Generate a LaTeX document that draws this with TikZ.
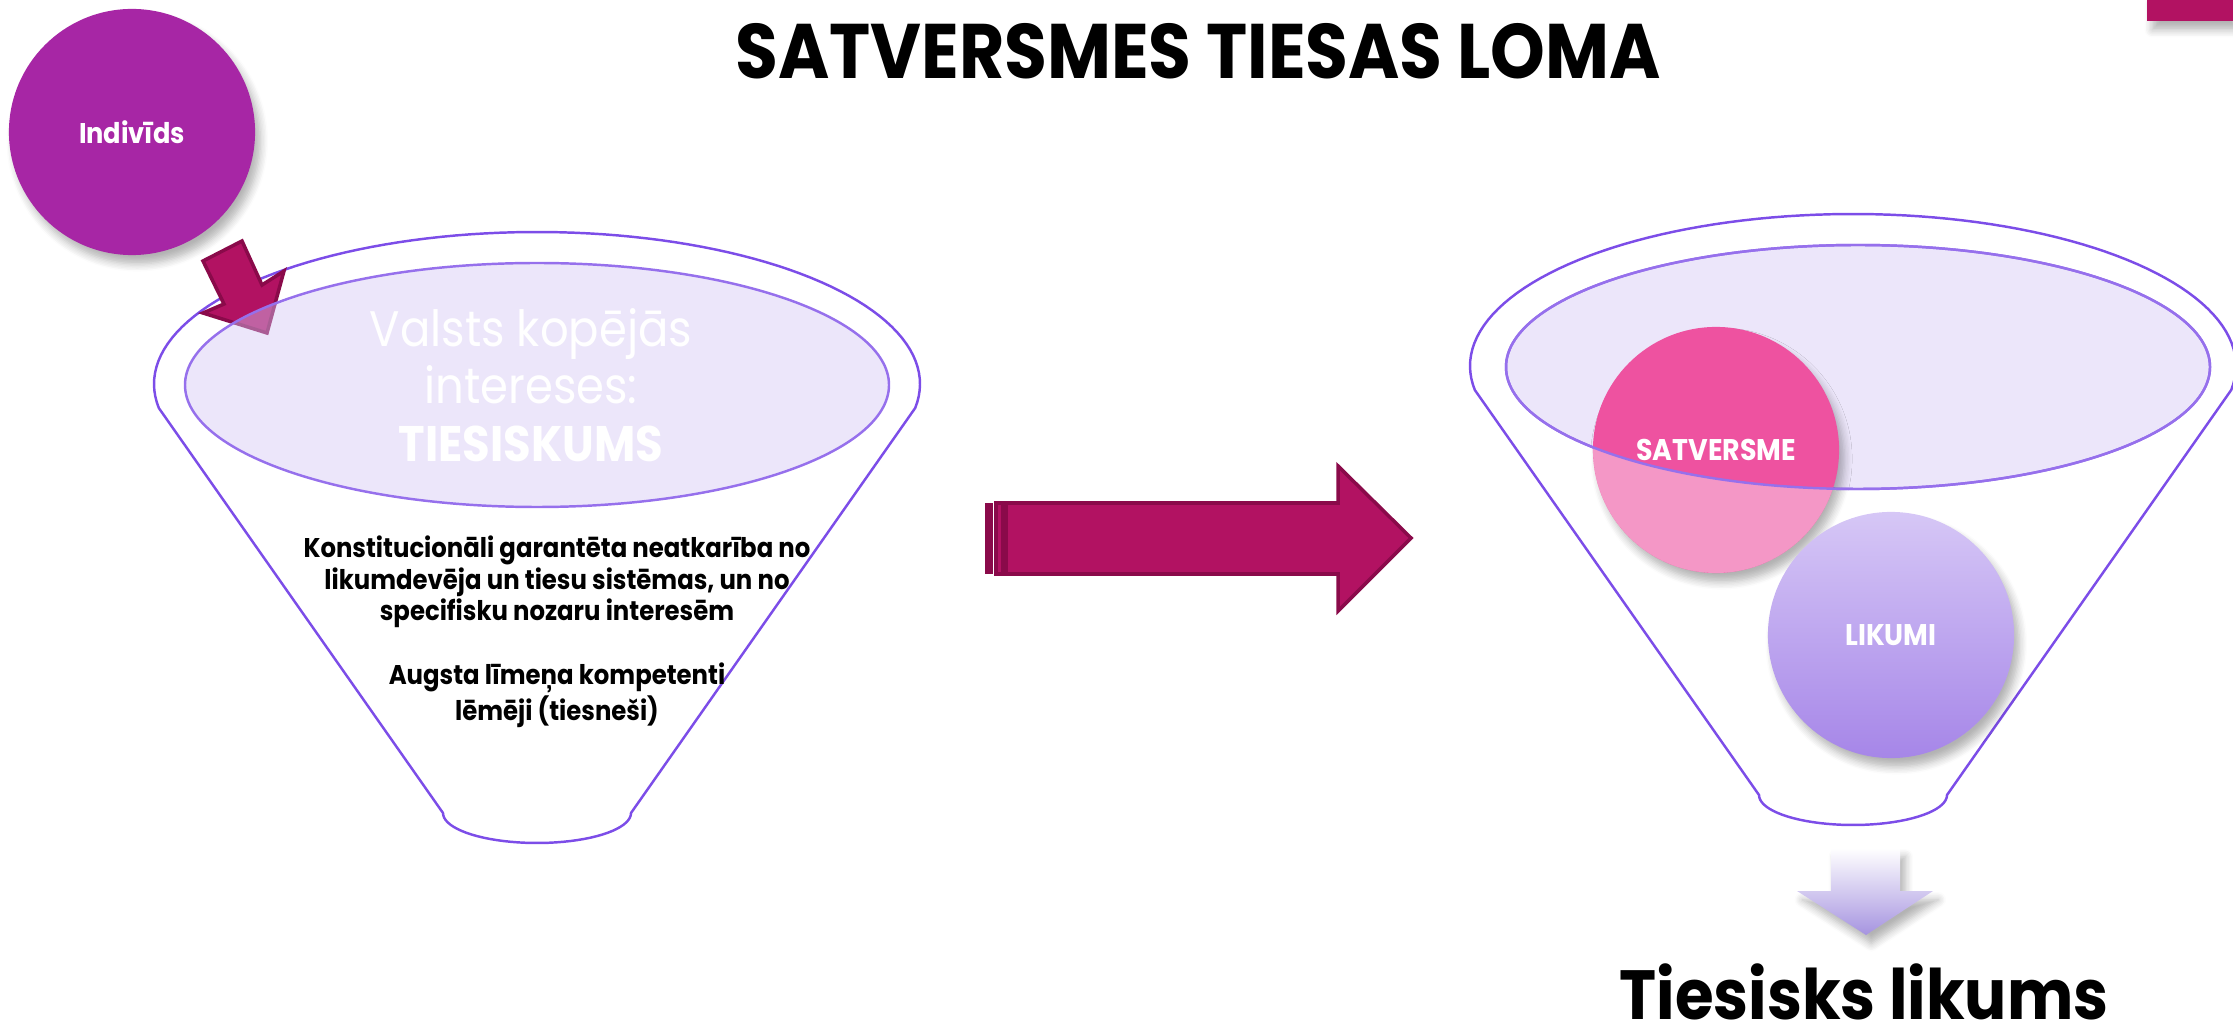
\documentclass[tikz,border=0pt]{standalone}
\usepackage{fontspec}
\setmainfont{Poppins}[FakeStretch=0.9]
\usetikzlibrary{shadows.blur}

\definecolor{funnelline}{RGB}{124,77,232}
\definecolor{rimline}{RGB}{150,112,236}
\definecolor{rimfill}{RGB}{212,198,244}
\definecolor{individ}{RGB}{167,38,165}
\definecolor{berry}{RGB}{178,18,98}
\definecolor{berryedge}{RGB}{138,10,74}
\definecolor{satpink}{RGB}{238,82,160}
\definecolor{liktop}{RGB}{214,199,246}
\definecolor{likbot}{RGB}{166,134,232}
\definecolor{downbot}{RGB}{166,148,224}

\tikzset{
  softshadow/.style={blur shadow={shadow xshift=1.5pt, shadow yshift=-2.5pt, shadow blur steps=6, shadow opacity=30}},
  ball/.style={circle, minimum size=2.46cm, inner sep=0pt, text=white, softshadow},
  funnel/.style={draw=funnelline, line width=0.7pt},
  rim/.style={fill=rimfill, fill opacity=0.44, draw=rimline, line width=0.7pt},
  blockarrow/.style={fill=berry, draw=berryedge, line width=1pt, line join=miter},
}

\begin{document}
\begin{tikzpicture}[x=0.01cm, y=-0.01cm]
    \useasboundingbox (0,0) rectangle (2233,1028);
    %corner tab
    \fill[berry, softshadow] (2147,-5) rectangle (2233,21);
    %title
    \node[anchor=base, font=\bfseries\fontsize{22}{26}\selectfont] (title) at (1198,79) {SATVERSMES TIESAS LOMA};

    %left funnel
    \begin{scope}[shift={(537,384)}]
        \draw[funnel] plot[domain=170.9:369.1, samples=90] ({383*cos(\x)},{152*sin(\x)})
            -- (94,429) -- plot[domain=0:180, samples=40] ({94*cos(\x)},{429+30*sin(\x)}) -- cycle;
    \end{scope}
    %small arrow
    \draw[blockarrow] (203,261) -- (224,304) -- (203,313) -- (267,333) -- (284,271) -- (262,285) -- (242,241) -- cycle;
    \draw[rim] (537,385) ellipse (352 and 122);
    \node[text=white, align=center, font=\fontsize{14.2}{16.4}\selectfont] (valsts) at (531,385)
        {Valsts kopējās\\intereses:\\\textbf{TIESISKUMS}};
    \node[align=center, font=\bfseries\fontsize{7.7}{9}\selectfont] (neatkariba) at (557,632)
        {Konstitucionāli garantēta neatkarība no\\likumdevēja un tiesu sistēmas, un no\\specifisku nozaru interesēm\\[9pt]Augsta līmeņa kompetenti\\lēmēji (tiesneši)};
    %individ
    \node[ball, fill=individ, font=\bfseries\fontsize{8.1}{10}\selectfont] (individs) at (132,132) {Indivīds};

    %big arrow
    \fill[berryedge] (985,503) rectangle (993,574);
    \draw[blockarrow] (996,503) rectangle (1003,574);
    \draw[blockarrow] (1006,503) -- (1338,503) -- (1338,466) -- (1411,538) -- (1338,611) -- (1338,574) -- (1006,574) -- cycle;

    %right funnel
    \begin{scope}[shift={(1853,366)}]
        \draw[funnel] plot[domain=170.9:369.1, samples=90] ({383*cos(\x)},{152*sin(\x)})
            -- (94,429) -- plot[domain=0:180, samples=40] ({94*cos(\x)},{429+30*sin(\x)}) -- cycle;
    \end{scope}
    \draw[rim] (1858,367) ellipse (352 and 122);
    \node[ball, fill=satpink] (satversme) at (1716,450) {};
    \begin{scope}
        \clip (1716,450) circle (123);
        \fill[white, fill opacity=0.4, even odd rule] (1580,300) rectangle (1850,600) (1858,367) ellipse (352 and 122);
    \end{scope}
    \draw[rimline, line width=0.7pt] (1858,367) ellipse (352 and 122);
    \node[text=white, font=\bfseries\fontsize{8.5}{10}\selectfont] (satversmetext) at (satversme) {SATVERSME};
    \node[ball, top color=liktop, bottom color=likbot, font=\bfseries\fontsize{8.5}{10}\selectfont] (likumi) at (1891,635) {LIKUMI};

    %down arrow
    \shade[top color=white, bottom color=downbot, softshadow] (1831,848) -- (1900,848) -- (1900,891) -- (1933,891) -- (1866,935) -- (1797,891) -- (1831,891) -- cycle;
    \node[anchor=base, inner sep=0pt, font=\bfseries\fontsize{19.8}{23}\selectfont] (tiesisks) at (1864,1019) {Tiesisks likums};
\end{tikzpicture}
\end{document}
